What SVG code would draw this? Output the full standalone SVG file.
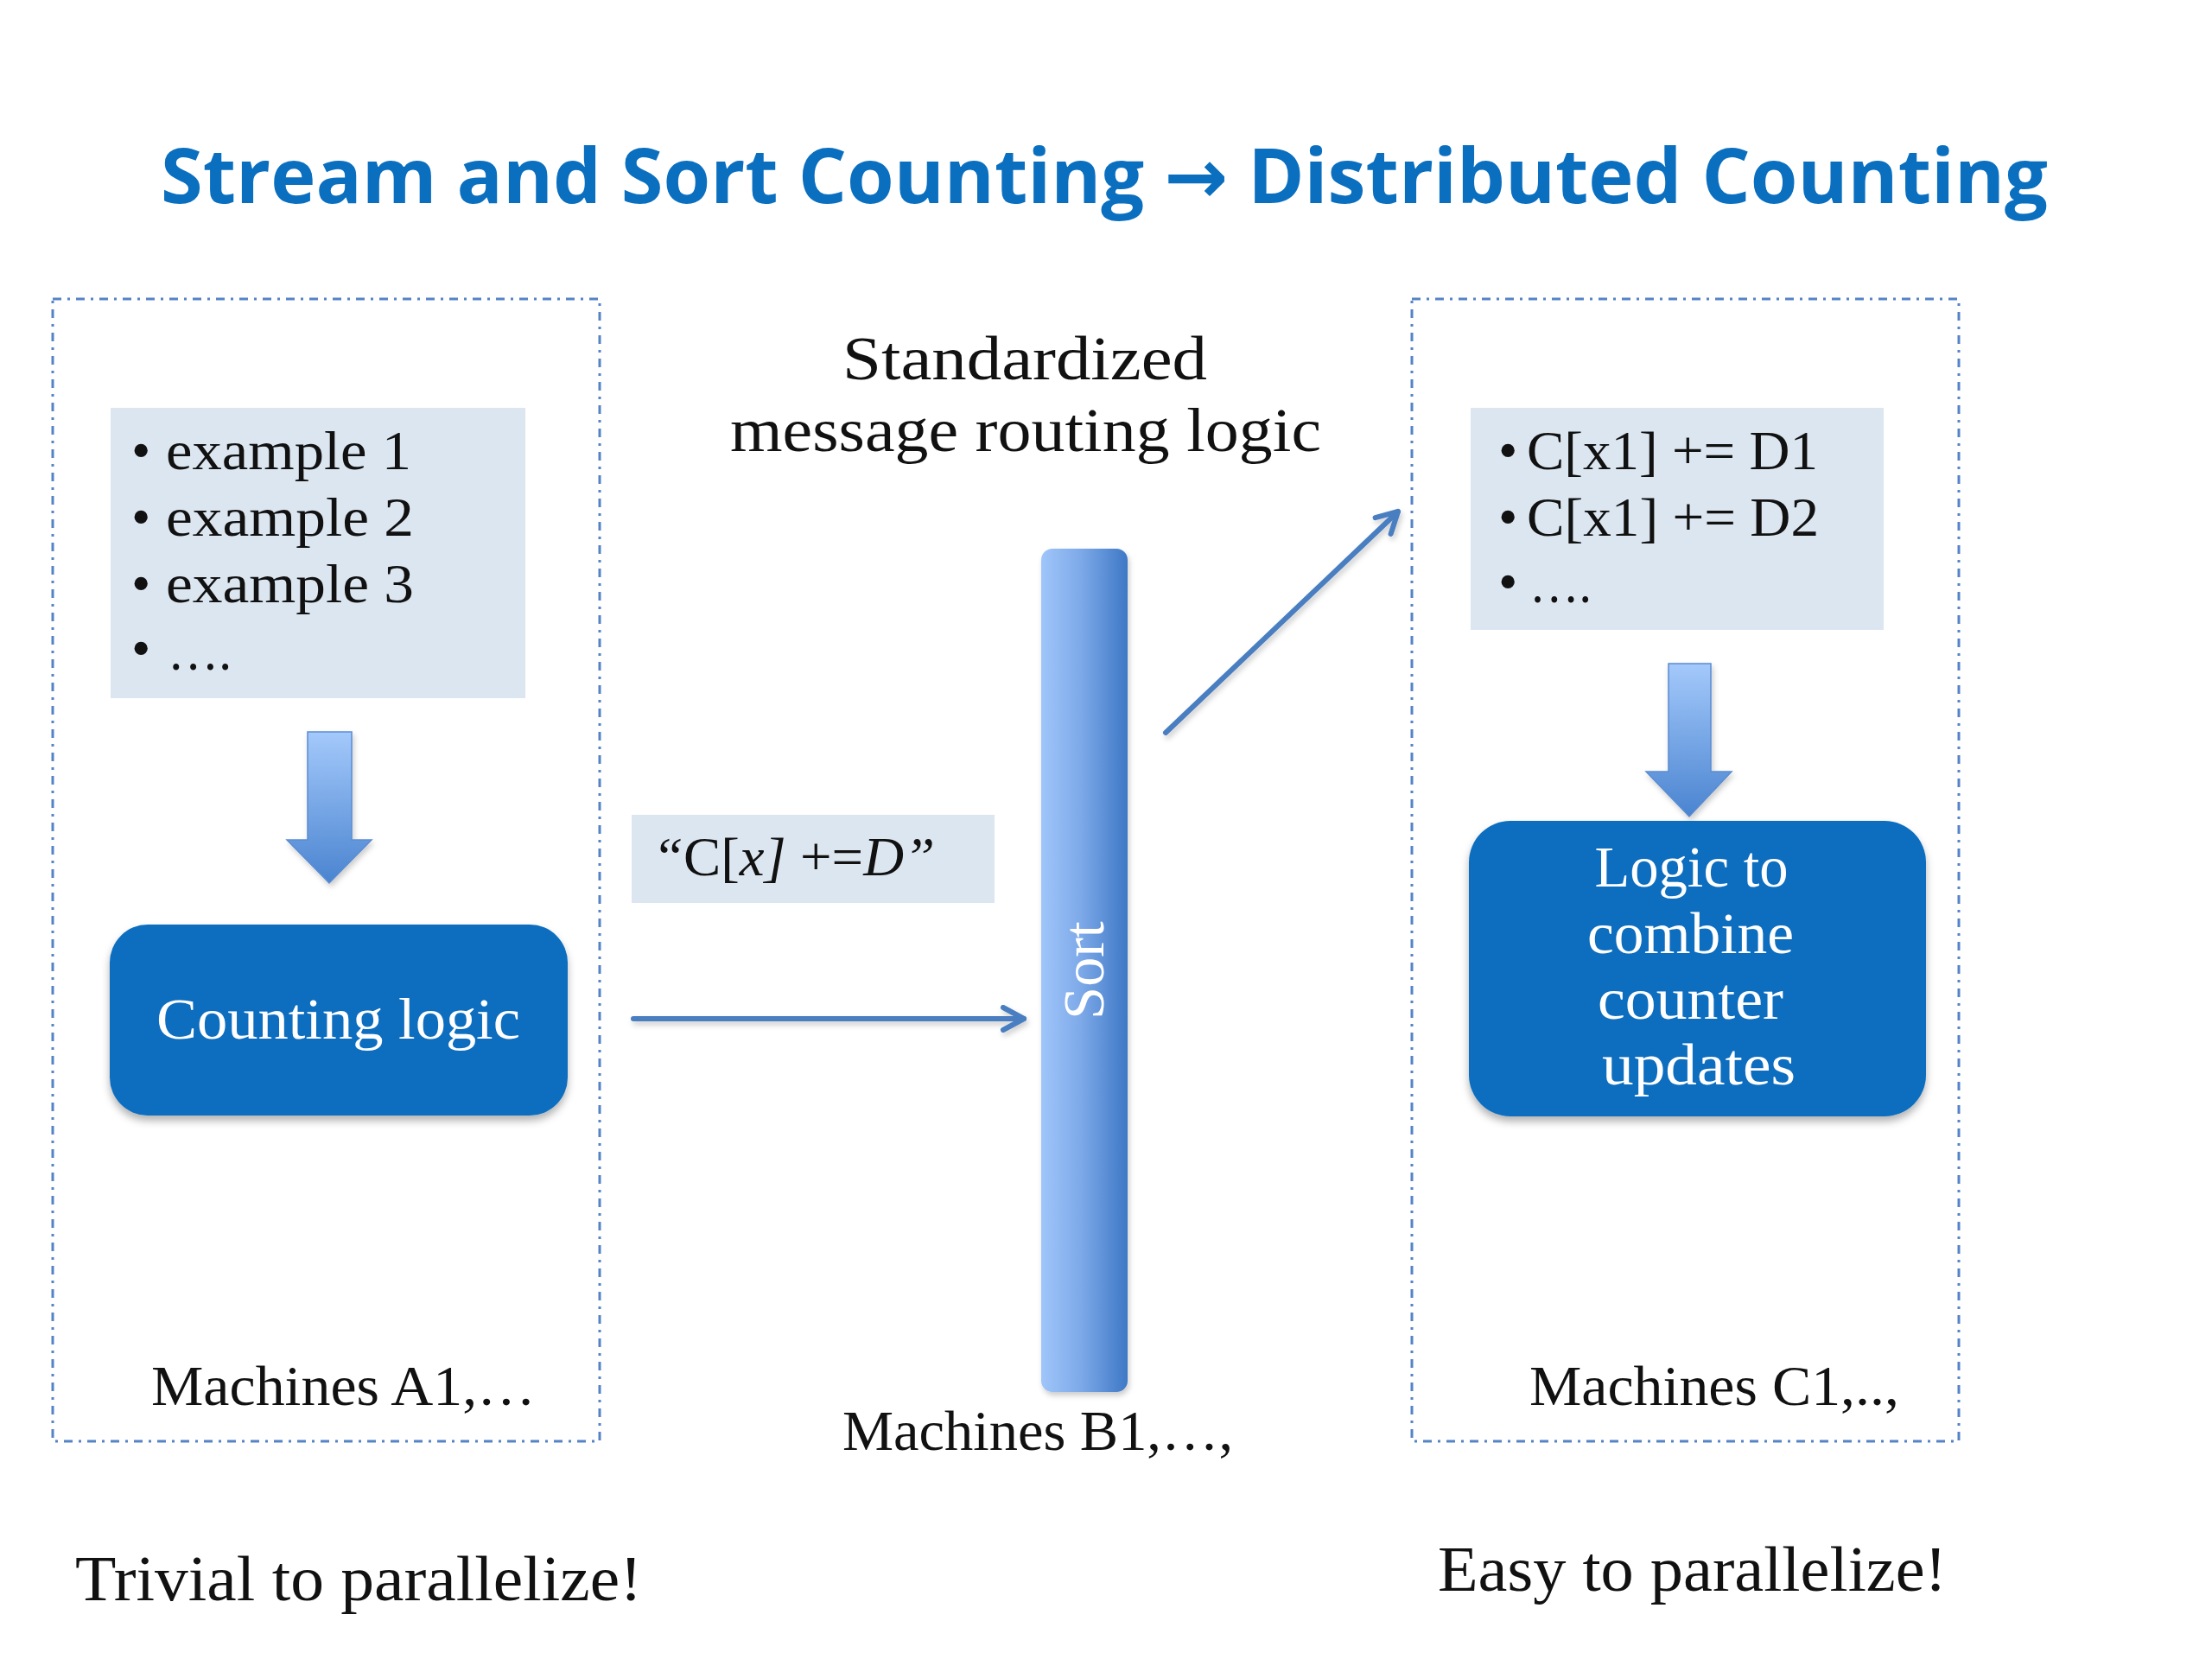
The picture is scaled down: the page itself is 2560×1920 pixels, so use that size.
<svg xmlns="http://www.w3.org/2000/svg" width="2560" height="1920" viewBox="0 0 2560 1920">
<style>
.title{font-family:"Open Sans","Noto Sans","DejaVu Sans",sans-serif;font-weight:bold;font-size:88px;fill:#0B6FC0}
.serif{font-family:"Liberation Serif","Times New Roman",serif;fill:#111}
.wt{font-family:"Liberation Serif","Times New Roman",serif;fill:#fff}
.frame{fill:none;stroke:#5583C6;stroke-width:3;stroke-dasharray:10 7 3 7}
.grey{fill:#DCE6F1}
.blue{fill:#0A6DBF;filter:url(#sh)}
.conn{stroke:#4A7EC1;stroke-width:6;fill:none;stroke-linecap:round;filter:url(#sh3)}
.barrow{fill:url(#gv);stroke:#5A8CD2;stroke-width:1.5;filter:url(#sh2)}
</style>
<defs>
<linearGradient id="gv" x1="0" y1="0" x2="0" y2="1">
<stop offset="0" stop-color="#A4C9FB"/>
<stop offset="1" stop-color="#4A84D0"/>
</linearGradient>
<linearGradient id="gh" x1="0" y1="0" x2="1" y2="0">
<stop offset="0" stop-color="#A0C6FA"/>
<stop offset="0.45" stop-color="#7EAAE9"/>
<stop offset="1" stop-color="#3E78C6"/>
</linearGradient>
<filter id="sh" x="-10%" y="-10%" width="120%" height="130%">
<feDropShadow dx="0" dy="6" stdDeviation="5" flood-color="#000" flood-opacity="0.3"/>
</filter>
<filter id="sh2" x="-20%" y="-20%" width="140%" height="140%">
<feDropShadow dx="2" dy="4" stdDeviation="3" flood-color="#000" flood-opacity="0.2"/>
</filter>
<filter id="sh3" filterUnits="userSpaceOnUse" x="0" y="0" width="2560" height="1920">
<feDropShadow dx="2" dy="4" stdDeviation="3" flood-color="#000" flood-opacity="0.2"/>
</filter>
<marker id="ah" viewBox="0 0 32 32" refX="28" refY="16" markerWidth="32" markerHeight="32" markerUnits="userSpaceOnUse" orient="auto">
<path d="M4,3 L28,16 L4,29" fill="none" stroke="#4A7EC1" stroke-width="6" stroke-linecap="round" stroke-linejoin="round"/>
</marker>
</defs>
<rect width="2560" height="1920" fill="#fff"/>

<g id="title">
<text class="title" x="186" y="235" textLength="2184" lengthAdjust="spacingAndGlyphs">Stream and Sort Counting → Distributed Counting</text>
</g>

<g id="machinesA">
<rect class="frame" x="61" y="346" width="633" height="1322"/>
<text class="serif" x="175" y="1626" font-size="66" textLength="445" lengthAdjust="spacingAndGlyphs">Machines A1,…</text>
</g>

<g id="machinesC">
<rect class="frame" x="1634" y="346" width="633" height="1322"/>
<text class="serif" x="1770" y="1626" font-size="66" textLength="428" lengthAdjust="spacingAndGlyphs">Machines C1,..,</text>
</g>

<g id="examples">
<rect class="grey" x="128" y="472" width="480" height="336"/>
<text class="serif" font-size="64">
<tspan x="152" y="543">•</tspan><tspan x="192" y="543" textLength="284" lengthAdjust="spacingAndGlyphs">example 1</tspan>
<tspan x="152" y="620">•</tspan><tspan x="192" y="620" textLength="287" lengthAdjust="spacingAndGlyphs">example 2</tspan>
<tspan x="152" y="697">•</tspan><tspan x="192" y="697" textLength="287" lengthAdjust="spacingAndGlyphs">example 3</tspan>
<tspan x="152" y="772">•</tspan><tspan x="194" y="775" textLength="74" lengthAdjust="spacingAndGlyphs">….</tspan>
</text>
</g>

<g id="arrowA">
<path class="barrow" d="M356,847 H407 V972 H430 L381,1022 L332,972 H356 Z"/>
</g>

<g id="countingLogic">
<rect class="blue" x="127" y="1070" width="530" height="221" rx="44" ry="44"/>
<text class="wt" x="181" y="1202" font-size="68" textLength="421" lengthAdjust="spacingAndGlyphs">Counting logic</text>
</g>

<g id="routingLabel">
<text class="serif" x="975" y="439" font-size="72" textLength="422" lengthAdjust="spacingAndGlyphs">Standardized</text>
<text class="serif" x="845" y="522" font-size="72" textLength="684" lengthAdjust="spacingAndGlyphs">message routing logic</text>
</g>

<g id="message">
<rect class="grey" x="731" y="943" width="420" height="102"/>
<text class="serif" x="755" y="1013" font-size="64" textLength="327" lengthAdjust="spacingAndGlyphs"><tspan font-style="italic">“</tspan>C[<tspan font-style="italic">x]</tspan> +=<tspan font-style="italic">D”</tspan></text>
</g>

<g id="sort">
<rect x="1205" y="635" width="100" height="976" rx="13" ry="13" fill="url(#gh)" filter="url(#sh2)"/>
<text class="wt" transform="translate(1277,1123) rotate(-90)" x="0" y="0" font-size="68" text-anchor="middle">Sort</text>
<text class="serif" x="975" y="1678" font-size="66" textLength="452" lengthAdjust="spacingAndGlyphs">Machines B1,…,</text>
</g>

<g id="updates">
<rect class="grey" x="1702" y="472" width="478" height="257"/>
<text class="serif" font-size="64">
<tspan x="1734" y="543">•</tspan><tspan x="1767" y="543" textLength="337" lengthAdjust="spacingAndGlyphs">C[x1] += D1</tspan>
<tspan x="1734" y="620">•</tspan><tspan x="1767" y="620" textLength="338" lengthAdjust="spacingAndGlyphs">C[x1] += D2</tspan>
<tspan x="1734" y="695">•</tspan><tspan x="1770" y="697" textLength="72" lengthAdjust="spacingAndGlyphs">….</tspan>
</text>
</g>

<g id="arrowC">
<path class="barrow" d="M1931,768 H1980 V893 H2004 L1955,945 L1905,893 H1931 Z"/>
</g>

<g id="combineLogic">
<rect class="blue" x="1700" y="950" width="529" height="342" rx="48" ry="48"/>
<text class="wt" font-size="68" text-anchor="middle">
<tspan x="1966" y="1026" textLength="224" lengthAdjust="spacingAndGlyphs">Logic to</tspan>
<tspan x="1965" y="1103" textLength="239" lengthAdjust="spacingAndGlyphs">combine</tspan>
<tspan x="1965" y="1179" textLength="215" lengthAdjust="spacingAndGlyphs">counter</tspan>
<tspan x="1966" y="1255" textLength="224" lengthAdjust="spacingAndGlyphs">updates</tspan>
</text>
</g>

<g id="connectors">
<line class="conn" x1="733" y1="1179" x2="1185" y2="1179" marker-end="url(#ah)"/>
<line class="conn" x1="1349" y1="848" x2="1618" y2="592" marker-end="url(#ah)"/>
</g>

<g id="footer">
<text class="serif" x="87" y="1852" font-size="74" textLength="656" lengthAdjust="spacingAndGlyphs">Trivial to parallelize!</text>
<text class="serif" x="1664" y="1841" font-size="74" textLength="589" lengthAdjust="spacingAndGlyphs">Easy to parallelize!</text>
</g>
</svg>
